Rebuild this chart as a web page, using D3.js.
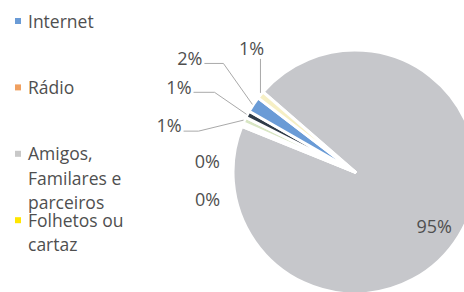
<!DOCTYPE html>
<html>
<head>
<meta charset="utf-8">
<script src="https://cdn.jsdelivr.net/npm/d3@7"></script>
<style>
  html, body { margin: 0; padding: 0; background: #fff; }
  svg text { font-family: "Open Sans", Lato, sans-serif; fill: #4f4f4f; }
</style>
</head>
<body>
<svg width="464" height="292"></svg>
<script>
// slices in clockwise draw order, big slice first
const sliceNames = ["Amigos, Familares e parceiros", "Outros", "Rádio", "Televisão", "Jornal", "Internet", "Folhetos ou cartaz"];
const sliceValues = [94.7, 0.2, 0.3, 0.8, 0.9, 2.1, 1.0];
const sliceColors = ["#c6c7cb", "#e8e8e8", "#f0a060", "#d8e6c4", "#2f3b48", "#6a9bd6", "#f6efc4"];

// legend (only these four are visible in the chart)
const legendNames = ["Internet", "Rádio", "Amigos, Familares e parceiros", "Folhetos ou cartaz"];
const legendColors = ["#6a9bd6", "#f0a060", "#c8c8c8", "#ffe600"];

let svg = d3.select("svg");
let centerX = 355, centerY = 172, radius = 122;

let pie = d3.pie().sort(null).value(d => d)
  .startAngle(311 * Math.PI / 180)
  .endAngle((311 + 360) * Math.PI / 180);
let arcs = pie(sliceValues);

let arc = d3.arc().innerRadius(0).outerRadius(radius);
let g = svg.append("g").attr("transform", `translate(${centerX},${centerY})`);

g.selectAll("path.slice")
  .data(arcs)
  .enter()
  .append("path")
  .attr("class", "slice")
  .attr("d", arc)
  .attr("fill", (d, i) => sliceColors[i])
  .attr("stroke", "#fff")
  .attr("stroke-width", 3)
  .attr("stroke-linejoin", "round");

let fmt = v => Math.round(v) + "%";

// big slice label inside
let inner = d3.arc().innerRadius(radius * 0.78).outerRadius(radius * 0.78);
let [cx, cy] = inner.centroid(arcs[0]);
g.append("text")
  .attr("x", cx - 2)
  .attr("y", cy + 5)
  .attr("text-anchor", "middle")
  .attr("dy", "0.35em")
  .attr("font-size", 18)
  .text(fmt(sliceValues[0]));

// small slice labels: offset of the label from the slice's outer edge point
// [dx, dy, anchor, elbowLength, showLine]
const labelLayout = [
  null,
  [-22, 74, "end", 0, false],
  [-23, 38, "end", 0, false],
  [-63, 6, "end", 15, true],
  [-56, -27, "end", 21, true],
  [-51, -46, "end", 19, true],
  [-9, -46, "middle", 0, true]
];

let edge = d3.arc().innerRadius(radius).outerRadius(radius);

arcs.forEach((a, i) => {
  let lay = labelLayout[i];
  if (!lay) return;
  let [ax, ay] = edge.centroid(a);
  let lx = ax + lay[0], ly = ay + lay[1];
  if (lay[4]) {
    let pts;
    if (lay[2] === "middle") {
      pts = [[ax, ay - 2], [ax, ly + 10]];
    } else {
      pts = [[ax - 1, ay], [lx + 2 + lay[3], ly + 5], [lx + 2, ly + 5]];
    }
    g.append("path")
      .attr("d", d3.line()(pts))
      .attr("fill", "none")
      .attr("stroke", "#a9a9a9")
      .attr("stroke-width", 1);
  }
  g.append("text")
    .attr("x", lx)
    .attr("y", ly)
    .attr("text-anchor", lay[2])
    .attr("dy", "0.35em")
    .attr("font-size", 18)
    .text(fmt(sliceValues[i]));
});

// legend with fixed spacing, long names wrap and overflow
let legend = svg.append("g").attr("transform", "translate(15,21)");
let maxWidth = 105;
legendNames.forEach((name, i) => {
  let item = legend.append("g").attr("transform", `translate(0,${i * 66.4})`);
  item.append("rect")
    .attr("x", 0).attr("y", -3)
    .attr("width", 6).attr("height", 6)
    .attr("fill", legendColors[i]);
  let text = item.append("text")
    .attr("font-size", 17.5);
  let words = name.split(" ");
  let line = [];
  let tspan = text.append("tspan").attr("x", 13).attr("y", 6.5);
  words.forEach(w => {
    line.push(w);
    tspan.text(line.join(" "));
    if (tspan.node().getComputedTextLength() > maxWidth && line.length > 1) {
      line.pop();
      tspan.text(line.join(" "));
      line = [w];
      tspan = text.append("tspan").attr("x", 13).attr("dy", 24.5).text(w);
    }
  });
});
</script>
</body>
</html>
